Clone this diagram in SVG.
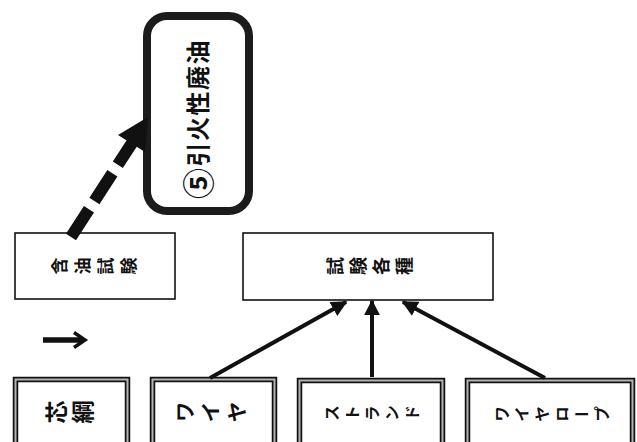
<svg xmlns="http://www.w3.org/2000/svg" width="637" height="442" viewBox="0 0 637 442">
<style>
.box{fill:#fff;stroke:#111;stroke-width:1.6}
.dbl{fill:#fff;stroke:#111;stroke-width:5.5}
.dblin{fill:none;stroke:#b4b4b4;stroke-width:2}
.vt{font-family:"Noto Sans CJK JP","Noto Sans CJK SC",sans-serif;font-weight:bold;fill:#111;writing-mode:vertical-rl;text-anchor:middle}
.ht{font-family:"Noto Sans CJK JP","Noto Sans CJK SC",sans-serif;font-weight:bold;fill:#111;text-anchor:middle;dominant-baseline:central}
.con{stroke:#111;stroke-width:4;fill:none}
</style>
<defs>
<marker id="ah" viewBox="0 0 10 10" refX="9" refY="5" markerWidth="4" markerHeight="4" markerUnits="strokeWidth" orient="auto">
<path d="M0,0 L10,5 L0,10 Z" fill="#111"/>
</marker>
</defs>
<rect width="637" height="442" fill="#fff"/>

<g id="node-waste-oil">
<rect x="147" y="16" width="102" height="195" rx="20" fill="#fff" stroke="#1c1c1c" stroke-width="8"/>
<text class="ht" font-size="24" letter-spacing="1.5" transform="translate(196,119) rotate(-90)"><tspan font-size="31">⑤</tspan>引火性廃油</text>
</g>

<g id="node-oil-test">
<rect class="box" x="15" y="233" width="160" height="66"/>
<text class="vt" font-size="17" letter-spacing="6" transform="translate(97,266) rotate(-90)">含油試験</text>
</g>

<g id="node-tests">
<rect class="box" x="243" y="233" width="250" height="67"/>
<text class="vt" font-size="18" letter-spacing="5" transform="translate(372,266) rotate(-90)">試験各種</text>
</g>

<g id="node-core">
<rect class="dbl" x="15.5" y="379.5" width="112" height="80"/>
<rect class="dblin" x="15.5" y="379.5" width="112" height="80"/>
<text class="vt" font-size="23" letter-spacing="3" transform="translate(71,412) rotate(-90)">芯綱</text>
</g>

<g id="node-wire">
<rect class="dbl" x="152.5" y="379.5" width="122" height="80"/>
<rect class="dblin" x="152.5" y="379.5" width="122" height="80"/>
<text class="vt" font-size="21" letter-spacing="5" transform="translate(213,412) rotate(-90)">ワイヤ</text>
</g>

<g id="node-strand">
<rect class="dbl" x="299.5" y="380.5" width="143" height="80"/>
<rect class="dblin" x="299.5" y="380.5" width="143" height="80"/>
<text class="vt" font-size="16" letter-spacing="4" transform="translate(374,413) rotate(-90)">ストランド</text>
</g>

<g id="node-rope">
<rect class="dbl" x="467.5" y="380.5" width="165" height="80"/>
<rect class="dblin" x="467.5" y="380.5" width="165" height="80"/>
<text class="vt" font-size="16" letter-spacing="4" transform="translate(554,414) rotate(-90)">ワイヤロープ</text>
</g>

<g id="small-arrow">
<line x1="43" y1="340" x2="83" y2="340" stroke="#111" stroke-width="5.5"/>
<polyline points="74,332.5 85,340 74,347.5" fill="none" stroke="#111" stroke-width="3.5"/>
</g>

<g id="connectors">
<line x1="71" y1="237" x2="132" y2="143" stroke="#111" stroke-width="12" stroke-dasharray="33 10"/>
<polygon points="148,117 145,152 118,135" fill="#111"/>
<line class="con" x1="210" y1="378" x2="346" y2="302" marker-end="url(#ah)"/>
<line class="con" x1="372" y1="377" x2="372" y2="301" marker-end="url(#ah)"/>
<line class="con" x1="545" y1="378" x2="403" y2="302" marker-end="url(#ah)"/>
</g>
</svg>
